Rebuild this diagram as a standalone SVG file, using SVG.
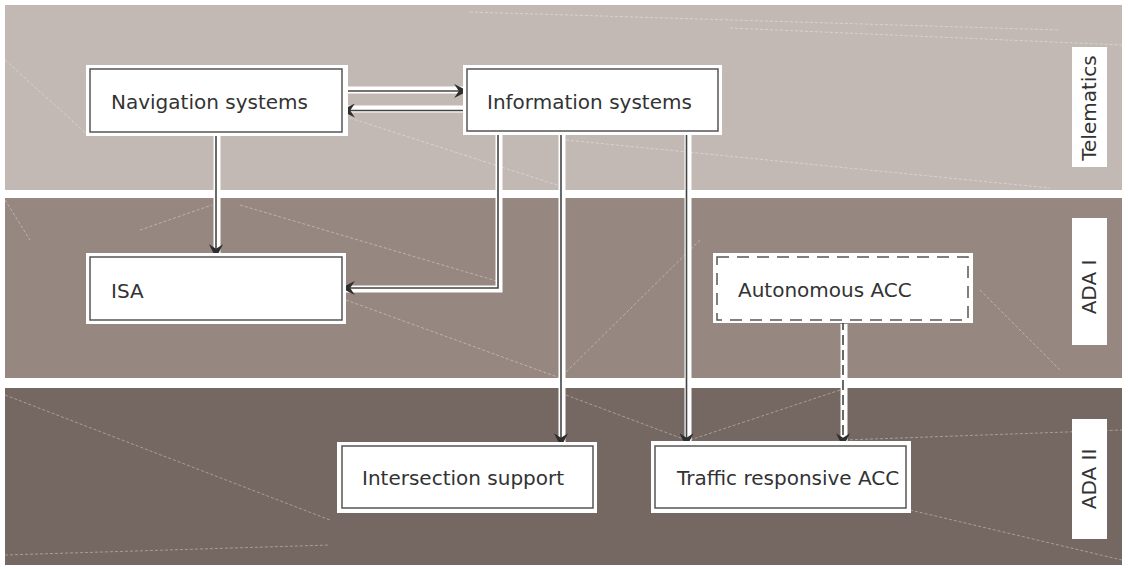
<svg xmlns="http://www.w3.org/2000/svg" width="1128" height="569" viewBox="0 0 1128 569">
<style>
  .t { font-family: "DejaVu Sans", Verdana, sans-serif; font-size: 20px; fill: #333333; }
  .outer { fill: #ffffff; }
  .inner { fill: #ffffff; stroke: #555555; stroke-width: 1.5; }
  .dash { fill: #ffffff; stroke: #555555; stroke-width: 1.5; stroke-dasharray: 12 8; }
  .strip { fill: none; stroke: #ffffff; stroke-width: 7; }
  .wire { fill: none; stroke: #444444; stroke-width: 1.6; marker-end: url(#ah); }
  .wired { fill: none; stroke: #444444; stroke-width: 1.6; stroke-dasharray: 10 5; marker-end: url(#ah); }
  .mesh { fill: none; stroke: #ffffff; stroke-opacity: 0.45; stroke-width: 0.8; stroke-dasharray: 3 2; }
  .lab { fill: #ffffff; }
</style>
<defs>
  <marker id="ah" markerWidth="14" markerHeight="14" viewBox="0 0 12 12" refX="11" refY="6" orient="auto" markerUnits="userSpaceOnUse">
    <path d="M0,0 L12,6 L0,12 L4,6 z" fill="#2e2e2e"/>
  </marker>
</defs>
<rect width="1128" height="569" fill="#ffffff"/>
<g id="bands">
  <rect x="5" y="5" width="1117" height="185" fill="#c2b8b4"/>
  <rect x="5" y="198" width="1117" height="180" fill="#968780"/>
  <rect x="5" y="388" width="1117" height="177" fill="#756762"/>
</g>
<g id="mesh">
  <path class="mesh" d="M5,60 L88,135"/>
  <path class="mesh" d="M350,118 L560,186"/>
  <path class="mesh" d="M566,140 L1050,188"/>
  <path class="mesh" d="M730,28 L1122,45"/>
  <path class="mesh" d="M470,12 L1060,30"/>
  <path class="mesh" d="M5,200 L30,240"/>
  <path class="mesh" d="M140,230 L212,205"/>
  <path class="mesh" d="M240,205 L500,282"/>
  <path class="mesh" d="M346,300 L560,378"/>
  <path class="mesh" d="M700,240 L560,378"/>
  <path class="mesh" d="M980,290 L1060,370"/>
  <path class="mesh" d="M5,395 L330,520"/>
  <path class="mesh" d="M566,395 L686,440"/>
  <path class="mesh" d="M690,440 L840,390"/>
  <path class="mesh" d="M845,440 L1122,430"/>
  <path class="mesh" d="M910,510 L1122,560"/>
  <path class="mesh" d="M5,555 L330,545"/>
</g>
<g id="connectors">
  <path class="strip" d="M346,90 L463,90"/>
  <path class="wire" d="M346,91 L467,91"/>
  <path class="strip" d="M463,109 L346,109"/>
  <path class="wire" d="M467,110.5 L342,110.5"/>
  <path class="strip" d="M217,136 L217,253"/>
  <path class="wire" d="M216,132 L216,257"/>
  <path class="strip" d="M499,135 L499,289 L346,289"/>
  <path class="wire" d="M498,131 L498,288 L342,288"/>
  <path class="strip" d="M562,135 L562,442"/>
  <path class="wire" d="M561,131 L561,446"/>
  <path class="strip" d="M688,135 L688,442"/>
  <path class="wire" d="M686.5,131 L686.5,446"/>
  <path class="strip" d="M844,324 L844,442"/>
  <path class="wired" d="M843,320 L843,446"/>
</g>
<g id="nav">
  <rect class="outer" x="86" y="65" width="262" height="71"/>
  <rect class="inner" x="90" y="69" width="252" height="63"/>
  <text class="t" x="111" y="109">Navigation systems</text>
</g>
<g id="info">
  <rect class="outer" x="463" y="65" width="259" height="70"/>
  <rect class="inner" x="467" y="69" width="251" height="62"/>
  <text class="t" x="487" y="109">Information systems</text>
</g>
<g id="isa">
  <rect class="outer" x="86" y="253" width="260" height="71"/>
  <rect class="inner" x="90" y="257" width="252" height="63"/>
  <text class="t" x="111" y="298">ISA</text>
</g>
<g id="autoacc">
  <rect class="outer" x="713" y="253" width="260" height="70"/>
  <rect class="dash" x="717" y="257" width="251" height="63"/>
  <text class="t" x="738" y="297">Autonomous ACC</text>
</g>
<g id="intersection">
  <rect class="outer" x="337" y="442" width="260" height="71"/>
  <rect class="inner" x="342" y="446" width="251" height="62"/>
  <text class="t" x="362" y="485">Intersection support</text>
</g>
<g id="traffic">
  <rect class="outer" x="651" y="441" width="260" height="72"/>
  <rect class="inner" x="655" y="446" width="251" height="62"/>
  <text class="t" x="677" y="485">Traffic responsive ACC</text>
</g>
<g id="telematics">
  <rect class="lab" x="1072" y="47" width="35" height="120"/>
  <text class="t" transform="translate(1096,108) rotate(-90)" text-anchor="middle">Telematics</text>
</g>
<g id="adai">
  <rect class="lab" x="1072" y="218" width="35" height="127"/>
  <text class="t" transform="translate(1096,287) rotate(-90)" text-anchor="middle">ADA I</text>
</g>
<g id="adaii">
  <rect class="lab" x="1072" y="419" width="35" height="120"/>
  <text class="t" transform="translate(1096,479) rotate(-90)" text-anchor="middle">ADA II</text>
</g>
</svg>
